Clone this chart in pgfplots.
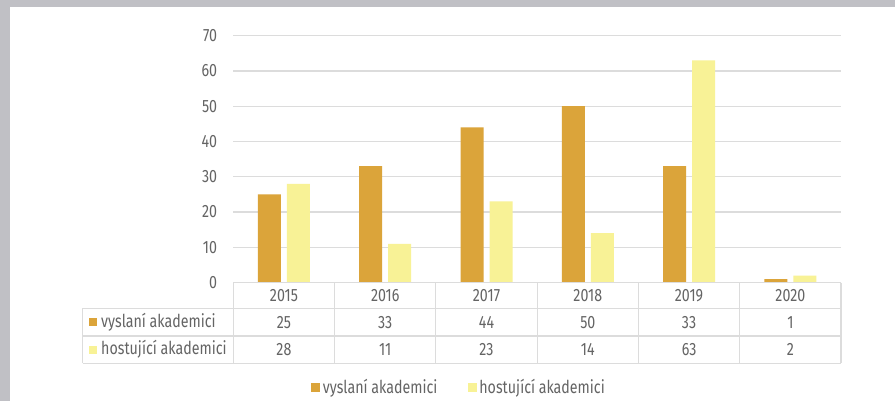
\documentclass[border=0pt]{standalone}
\usepackage{fontspec}
\setmainfont{Fira Sans}[FakeStretch=0.8]
\usepackage{pgfplots}
\usepackage{pgfplotstable}
\pgfplotsset{compat=1.18}
\definecolor{cA}{RGB}{219,164,58}
\definecolor{cB}{RGB}{248,242,150}
\definecolor{gridc}{RGB}{220,220,220}
\definecolor{txt}{RGB}{100,100,100}
\definecolor{framec}{RGB}{192,192,197}
\newcommand\tf{\fontsize{17.8}{20}\selectfont}
\pgfplotstableread{
x year a b
0 2015 25 28
1 2016 33 11
2 2017 44 23
3 2018 50 14
4 2019 33 63
5 2020 1 2
}\data
\begin{document}
\begin{tikzpicture}[x=1pt,y=1pt]
\fill[framec] (0,0) rectangle (895,-401);
\fill[white] (10,-7) rectangle (895,-401);
\begin{axis}[
  at={(233.3pt,-282.6pt)}, anchor=south west,
  width=607.7pt, height=246.9pt, scale only axis,
  xmin=-0.5, xmax=5.5, ymin=0, ymax=70,
  axis lines*=left, axis line style={draw=none},
  major tick length=0pt,
  ytick={0,10,...,70},
  xtick={0,1,2,3,4,5},
  xticklabels from table={\data}{year},
  /pgf/number format/assume math mode=true,
  yticklabel style={anchor=east, inner sep=0pt, xshift=-16pt, font=\tf, text=txt},
  xticklabel style={anchor=center, inner sep=0pt, yshift=-12.9pt, font=\tf, text=txt},
  ymajorgrids, grid style={draw=gridc, line width=1.2pt},
  clip=false,
  legend style={at={(0.372,-0.423)}, anchor=center, draw=none, fill=none,
    font=\tf, text=txt, legend columns=2,
    /tikz/every even column/.append style={column sep=28pt},
    nodes={inner sep=2.5pt}},
  legend cell align=left,
]
\addplot[ybar, bar width=23pt, bar shift=-14.5pt, fill=cA, draw=none,
  legend image code/.code={\fill[cA] (0pt,-4.5pt) rectangle (9pt,4.5pt);}]
  table[x=x, y=a]{\data};
\addlegendentry{vyslaní akademici}
\addplot[ybar, bar width=23pt, bar shift=14.5pt, fill=cB, draw=none,
  legend image code/.code={\fill[cB] (0pt,-4.5pt) rectangle (9pt,4.5pt);}]
  table[x=x, y=b]{\data};
\addlegendentry{hostující akademici}
\addplot[forget plot, only marks, mark=*, mark size=0pt, mark options={draw=none, fill=none},
  point meta=explicit, nodes near coords,
  nodes near coords style={anchor=center, inner sep=0pt, font=\tf, text=txt}]
  table[x=x, y expr=-11.23, meta=a]{\data};
\addplot[forget plot, only marks, mark=*, mark size=0pt, mark options={draw=none, fill=none},
  point meta=explicit, nodes near coords,
  nodes near coords style={anchor=center, inner sep=0pt, font=\tf, text=txt}]
  table[x=x, y expr=-19.02, meta=b]{\data};
\end{axis}
% table grid
\begin{scope}[draw=gridc, line width=1.2pt]
\draw (233.3,-282.7) -- (841,-282.7);
\draw (82.7,-308.3) -- (841,-308.3);
\draw (82.7,-336) -- (841,-336);
\draw (82.7,-363.3) -- (841,-363.3);
\draw (82.7,-308.3) -- (82.7,-363.3);
\foreach \k in {0,...,6} {\draw (233.3+101.28*\k,-282.7) -- (233.3+101.28*\k,-363.3);}
\end{scope}
\fill[cA] (89,-318.2) rectangle (97,-326.2);
\fill[cB] (89,-345.7) rectangle (97,-353.7);
\node[anchor=west, inner sep=0pt, font=\tf, text=txt] at (101,-322.2) {vyslaní akademici};
\node[anchor=west, inner sep=0pt, font=\tf, text=txt] at (101,-349.7) {hostující akademici};
\pgfresetboundingbox
\useasboundingbox (0,0) rectangle (895,-401);
\end{tikzpicture}
\end{document}
